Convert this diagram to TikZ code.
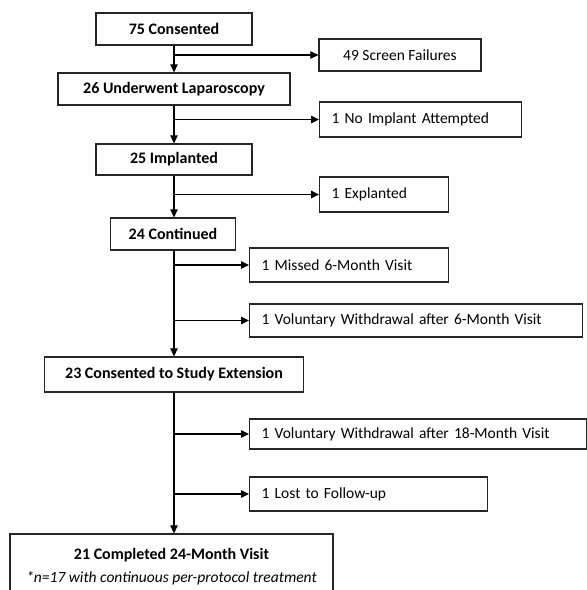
\documentclass[tikz,border=0pt]{standalone}
\usepackage{fontspec}
\setmainfont{Carlito}
\usetikzlibrary{arrows.meta}
\begin{document}
\begin{tikzpicture}[x=1pt,y=-1pt,
  boxline/.style={draw=black!85, line width=1.3pt},
  lbox/.style={boxline, font=\fontsize{16}{19}\selectfont\bfseries, align=center, inner sep=0pt},
  cbox/.style={boxline, font=\fontsize{15.5}{18}\selectfont, align=center, inner sep=0pt},
  rbox/.style={boxline, font=\fontsize{15.5}{18}\selectfont, anchor=west, align=left,
               inner xsep=12pt, inner ysep=0pt, text width=#1-24pt},
  arr/.style={line width=1.2pt, -{Triangle[length=8pt,width=7.5pt]}}
]
\useasboundingbox (0,0) rectangle (587,590);
\clip (0,0) rectangle (587,590);

% main column
\node[lbox, minimum width=156pt, minimum height=32pt] (c75) at (174,29) {75 Consented};
\node[lbox, minimum width=232pt, minimum height=32pt] (u26) at (174,89) {26 Underwent Laparoscopy};
\node[lbox, minimum width=156pt, minimum height=31pt] (i25) at (174,159.5) {25 Implanted};
\node[lbox, minimum width=125pt, minimum height=32pt] (i24) at (173,234) {24 Continued};
\node[lbox, minimum width=259pt, minimum height=35pt] (c23) at (174,374.5) {23 Consented to Study Extension};
\node[lbox, minimum width=323pt, minimum height=66pt, font=\fontsize{15.5}{23}\selectfont] (c21) at (171.5,567)
  {\bfseries\fontsize{16}{23}\selectfont 21 Completed 24-Month Visit\\ \itshape *n=17 with continuous per-protocol treatment};

% side boxes
\node[cbox, minimum width=162pt, minimum height=32pt] (sf) at (400,55) {49 Screen Failures};
\node[rbox=202pt, minimum height=35pt] (ni) at (319,119.5) {1 No Implant Attempted};
\node[rbox=129pt, minimum height=35pt] (ex) at (319,194.5) {1 Explanted};
\node[rbox=199pt, minimum height=34pt] (ms) at (249,265) {1 Missed 6-Month Visit};
\node[rbox=333pt, minimum height=33pt] (v6) at (249,320.5) {1 Voluntary Withdrawal after 6-Month Visit};
\node[rbox=337pt, minimum height=30pt] (v18) at (249,434) {1 Voluntary Withdrawal after 18-Month Visit};
\node[rbox=238pt, minimum height=34pt] (lost) at (249,494) {1 Lost to Follow-up};

% trunk
\draw[arr] (c75.south) -- (c75.south |- u26.north);
\draw[arr] (u26.south) -- (u26.south |- i25.north);
\draw[arr] (i25.south) -- (i25.south |- i24.north);
\draw[arr] (i24.south -| i25.south) -- (i25.south |- c23.north);
\draw[arr] (c23.south) -- (c23.south |- c21.north);

% branches
\draw[arr] (c75.south |- sf.west) -- (sf.west);
\draw[arr] (u26.south |- ni.west) -- (ni.west);
\draw[arr] (i25.south |- ex.west) -- (ex.west);
\draw[arr] (i25.south |- ms.west) -- (ms.west);
\draw[arr] (i25.south |- v6.west) -- (v6.west);
\draw[arr] (c23.south |- v18.west) -- (v18.west);
\draw[arr] (c23.south |- lost.west) -- (lost.west);
\end{tikzpicture}
\end{document}
